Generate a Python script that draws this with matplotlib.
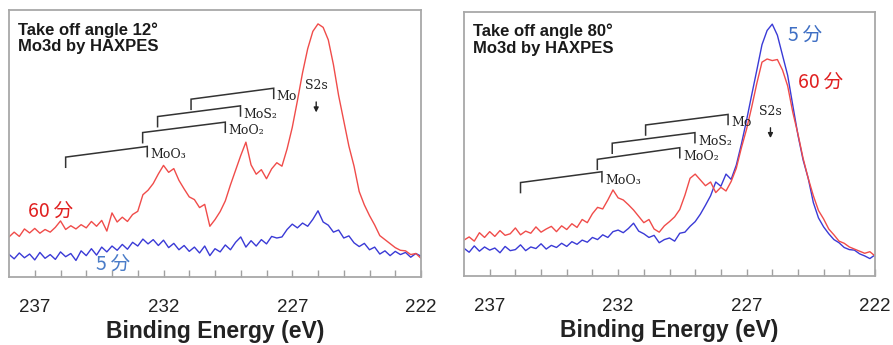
import numpy as np
import matplotlib
matplotlib.use("Agg")
import matplotlib.pyplot as plt

# energia de ligacao (eV), passo de 0.2 eV
energia = np.linspace(238.0, 222.0, 81)

# angulo 12 graus (intensidade relativa, 0-100)
i12_60min = [15.0, 16.8, 15.2, 18.0, 16.5, 18.2, 16.4, 17.8, 16.8, 18.6,
             21.0, 17.8, 19.2, 18.0, 19.6, 18.4, 20.8, 19.0, 21.2, 17.2,
             24.0, 20.6, 22.4, 20.8, 23.4, 24.6, 30.8, 32.5, 35.0, 38.6,
             41.8, 39.2, 40.6, 36.2, 33.0, 30.0, 29.0, 26.0, 27.2, 19.0,
             21.5, 24.5, 28.5, 34.5, 40.0, 45.5, 50.5, 42.0, 38.5, 40.2,
             36.8, 40.5, 42.8, 41.5, 48.0, 56.0, 66.0, 76.5, 85.5, 92.0,
             94.8, 93.5, 88.8, 79.5, 68.0, 58.5, 49.0, 41.5, 32.0, 27.0,
             23.0, 19.5, 15.5, 14.0, 12.5, 11.0, 10.0, 9.8, 8.4, 8.8, 7.0]
i12_5min = [8.5, 6.8, 9.0, 7.2, 8.6, 6.4, 9.2, 7.0, 8.4, 6.6,
            9.4, 7.6, 8.8, 6.2, 9.8, 8.0, 10.6, 8.2, 11.2, 9.4,
            11.6, 10.0, 12.2, 10.4, 13.0, 11.6, 14.2, 12.4, 14.0, 11.8,
            13.8, 11.0, 12.6, 10.2, 11.8, 9.6, 11.2, 9.0, 11.6, 8.0,
            10.6, 9.4, 12.0, 10.2, 13.0, 15.0, 11.2, 13.6, 11.6, 14.0,
            12.4, 15.2, 14.6, 15.0, 17.8, 19.8, 18.4, 20.2, 19.0, 21.6,
            24.8, 20.6, 19.4, 16.8, 17.6, 14.6, 15.4, 12.8, 11.4, 12.6,
            10.2, 11.2, 8.6, 9.8, 8.0, 9.6, 8.4, 9.2, 7.4, 8.8, 7.8]

# angulo 80 graus
i80_60min = [13.6, 14.8, 13.2, 16.4, 14.6, 16.8, 15.0, 17.2, 15.4, 16.0,
             18.2, 15.6, 17.0, 16.2, 18.6, 16.6, 17.8, 18.8, 16.8, 19.0,
             17.6, 19.8, 18.4, 21.4, 20.2, 23.6, 26.0, 25.4, 28.8, 32.6,
             29.6, 28.8, 27.0, 25.0, 22.6, 20.2, 21.4, 17.8, 16.6, 19.0,
             20.6, 22.4, 25.2, 30.6, 37.0, 38.6, 36.4, 34.2, 35.6, 31.6,
             33.6, 32.2, 35.8, 40.8, 48.6, 55.6, 64.0, 73.0, 81.0, 82.2,
             81.6, 82.0, 78.0, 72.0, 62.0, 53.8, 44.6, 37.0, 30.4, 24.8,
             21.6, 17.8, 15.6, 13.2, 12.4, 11.0, 10.2, 9.4, 8.6, 9.2, 7.6]
i80_5min = [10.5, 9.0, 11.4, 9.4, 11.0, 9.8, 10.6, 8.8, 11.2, 9.6,
            10.0, 11.8, 9.6, 11.0, 10.4, 12.2, 10.2, 11.6, 10.8, 12.4,
            11.2, 13.0, 12.0, 13.6, 12.8, 14.6, 13.8, 15.6, 14.6, 16.8,
            17.4, 16.4, 18.0, 20.0, 17.0, 16.0, 14.6, 15.4, 12.6, 13.8,
            14.4, 13.2, 16.2, 16.6, 18.8, 20.6, 23.4, 26.8, 30.4, 35.6,
            34.0, 38.6, 36.6, 42.0, 50.0, 59.0, 68.6, 78.0, 87.6, 93.0,
            95.4, 91.2, 83.6, 76.0, 64.6, 53.4, 44.0, 37.0, 27.8, 22.0,
            18.6, 16.0, 13.8, 12.6, 10.8, 10.0, 9.8, 8.4, 7.6, 6.6, 8.0]

rotulos_pico = ["MoO\u2083", "MoO\u2082", "MoS\u2082", "Mo"]
# (E esquerda, E direita) de cada colchete
colchetes_e = [(235.8, 232.63), (232.81, 229.6), (232.23, 229.01), (230.93, 227.72)]
# altura do topo (esq, dir) para cada painel
colchetes_v12 = [(44.9, 48.9), (54.1, 58.0), (60.1, 64.1), (66.6, 70.7)]
colchetes_v80 = [(35.4, 39.5), (44.2, 48.6), (50.3, 54.3), (57.2, 61.2)]

VERMELHO = "#f04c4a"
AZUL = "#3a3ad6"
CJK = ["Noto Sans CJK JP", "DejaVu Sans"]

fig = plt.figure(figsize=(8.93, 3.45), dpi=100)
ax1 = fig.add_axes([9 / 893, 1 - 277 / 345, 412 / 893, 267 / 345])
ax2 = fig.add_axes([464 / 893, 1 - 276 / 345, 411 / 893, 264 / 345])


def desenhar(ax, y60, y5, titulo, colchetes_v, s2s_v):
    ax.plot(energia, y5, color=AZUL, lw=1.0)
    ax.plot(energia, y60, color=VERMELHO, lw=1.0)
    ax.set_xlim(238, 222)
    ax.set_ylim(0, 100)
    ax.set_yticks([])
    ax.set_xticks([237, 232, 227, 222])
    ax.set_xticks(np.arange(223, 238), minor=True)
    ax.tick_params(axis="x", which="both", direction="in", length=5,
                   color="#a0a0a0", width=1.0)
    ax.tick_params(axis="x", which="major", labelsize=13.5, pad=16,
                   labelcolor="#222222")
    for lab in ax.get_xticklabels():
        lab.set_family("Liberation Sans")
    for s in ax.spines.values():
        s.set_color("#a8a8a8")
        s.set_linewidth(1.3)
    ax.set_xlabel("Binding Energy (eV)", fontsize=16.5, fontweight="bold",
                  family="Liberation Sans", color="#222222", labelpad=3)
    ax.text(0.022, 0.955, titulo, transform=ax.transAxes, ha="left", va="top",
            fontsize=12, fontweight="bold", family="Liberation Sans",
            color="#1a1a1a", linespacing=1.1)

    for (e_esq, e_dir), (v_esq, v_dir), rot in zip(colchetes_e, colchetes_v, rotulos_pico):
        ax.plot([e_esq, e_esq, e_dir, e_dir],
                [v_esq - 3.8, v_esq, v_dir, v_dir - 3.8],
                color="#333333", lw=1.1, solid_joinstyle="miter")
        ax.text(e_dir - 0.12, v_dir - 3.2, rot, ha="left", va="center",
                fontsize=9, family="DejaVu Serif", color="#222222")

    ax.text(226.07, s2s_v, "S2s", ha="center", va="center", fontsize=9,
            family="DejaVu Serif", color="#222222")
    ax.annotate("", xy=(226.07, s2s_v - 11), xytext=(226.07, s2s_v - 5),
                arrowprops=dict(arrowstyle="-|>", color="#222222", lw=1.0,
                                mutation_scale=7))


desenhar(ax1, i12_60min, i12_5min, "Take off angle 12\u00b0\nMo3d by HAXPES",
         colchetes_v12, 71.6)
desenhar(ax2, i80_60min, i80_5min, "Take off angle 80\u00b0\nMo3d by HAXPES",
         colchetes_v80, 62.2)

ax1.text(236.37, 24.7, "60\u2009分", ha="center", va="center", fontsize=14,
         color="#e02020", family=CJK)
ax1.text(233.97, 4.9, "5\u2009分", ha="center", va="center", fontsize=14,
         color="#4a7cc8", family=CJK)
ax2.text(224.73, 91.3, "5\u2009分", ha="center", va="center", fontsize=14,
         color="#3f6fc4", family=CJK)
ax2.text(224.11, 73.5, "60\u2009分", ha="center", va="center", fontsize=14,
         color="#e02020", family=CJK)

fig.savefig("out.png", dpi=100)
